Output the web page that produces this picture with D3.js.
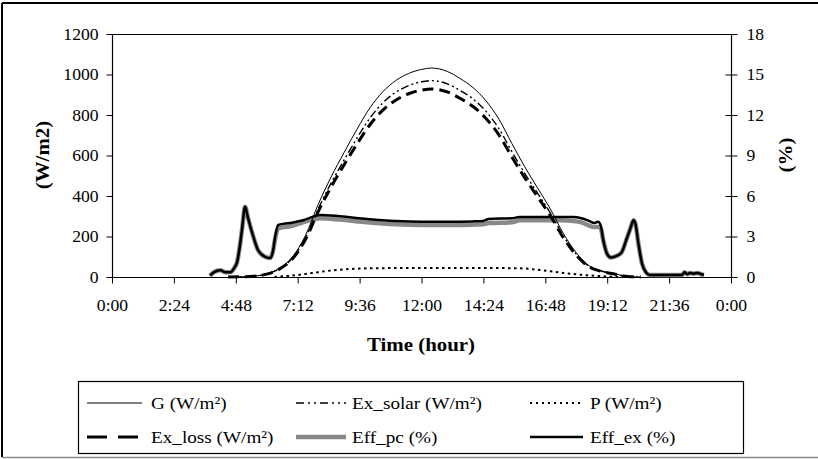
<!DOCTYPE html>
<html><head><meta charset="utf-8">
<script src="https://cdn.jsdelivr.net/npm/d3@7"></script>
<style>
html,body{margin:0;padding:0;background:#fff;}
svg text{font-family:"Liberation Serif","Times New Roman",serif !important;fill:#000;}
</style></head>
<body><svg id="c" width="818" height="459"></svg>
<script>
// ---- data (time in decimal hours) ----
const xTickValues = [0, 2.4, 4.8, 7.2, 9.6, 12, 14.4, 16.8, 19.2, 21.6, 24];
const xTickLabels = ["0:00","2:24","4:48","7:12","9:36","12:00","14:24","16:48","19:12","21:36","0:00"];
const leftTicks = [0,200,400,600,800,1000,1200];
const rightTicks = [0,3,6,9,12,15,18];

const gTimes = [4.5,5,5.5,6,6.5,7,7.5,8,8.5,9,9.5,10,10.5,11,11.5,12,12.4,13,13.5,14,14.5,15,15.5,16,16.5,17,17.5,18,18.5,19,19.5,20,20.5];
const G       = [0,1,4,16,44,100,205,360,495,615,730,835,915,970,1005,1025,1032,1015,980,935,870,780,660,545,440,335,215,120,55,30,15,3,0];
const ExSolar = [0,1,4,15,41,94,193,338,465,578,686,785,860,912,945,964,970,954,921,879,818,733,620,512,414,315,202,113,52,28,14,3,0];
const ExLoss  = [0,1,4,14,40,90,185,324,446,554,657,752,824,873,905,923,929,914,882,842,783,702,594,491,396,302,194,108,50,27,14,3,0];

const pTimes = [6.3,6.5,7,7.5,8,8.5,9,9.5,10,11,12,13,14,15,15.8,16.5,17,17.5,18,18.5,19,19.5,20];
const P      = [0,2,7,15,24,32,38,41,43,44,44,44,44,44,43,36,28,20,13,8,4,1,0];

const effTimes = [3.8,3.95,4.2,4.4,4.58,4.75,4.85,4.95,5.04,5.16,5.27,5.43,5.66,5.93,6.13,6.25,6.32,6.44,6.9,7.41,8.07,8.84,9.89,11,12,13,14,14.4,14.6,15.5,15.8,17.4,17.9,18.2,18.5,18.7,18.85,18.95,19.05,19.2,19.35,19.55,19.75,19.95,20.1,20.22,20.3,20.4,20.55,20.7,20.85,21.5,22.1,22.2,22.3,22.4,22.55,22.7,22.85,22.95];
const EffEx = [0.1,0.35,0.5,0.35,0.35,0.7,1.1,2.2,3.5,5.2,4.4,3.3,2.0,1.5,1.4,2.0,2.9,3.85,4.0,4.2,4.6,4.5,4.3,4.15,4.1,4.1,4.12,4.15,4.3,4.35,4.45,4.45,4.45,4.35,4.15,4.0,4.1,3.8,2.7,1.7,1.45,1.55,1.8,2.8,3.6,4.2,3.9,2.6,1.0,0.35,0.15,0.15,0.15,0.35,0.2,0.3,0.25,0.3,0.2,0.15];
const EffPc = [0.1,0.35,0.5,0.35,0.35,0.7,1.1,2.2,3.5,5.2,4.4,3.3,2.0,1.5,1.4,2.0,2.8,3.6,3.75,4.05,4.35,4.25,4.05,3.9,3.85,3.85,3.88,3.9,4.0,4.05,4.2,4.2,4.15,4.05,3.8,3.7,3.7,3.6,2.7,1.7,1.45,1.55,1.8,2.8,3.6,4.2,3.9,2.6,1.0,0.35,0.15,0.15,0.15,0.35,0.2,0.3,0.25,0.3,0.2,0.15];

const legendItems = [
  {name:"G (W/m²)", key:"G"},
  {name:"Ex_solar (W/m²)", key:"ExSolar"},
  {name:"P (W/m²)", key:"P"},
  {name:"Ex_loss (W/m²)", key:"ExLoss"},
  {name:"Eff_pc (%)", key:"EffPc"},
  {name:"Eff_ex (%)", key:"EffEx"}
];

// ---- styles ----
const FONT = "Liberation Serif, Times New Roman, serif";
const styles = {
  G:      {stroke:"#000", w:1, dash:null},
  ExSolar:{stroke:"#000", w:1.4, dash:"8,3,2,3,2,3"},
  P:      {stroke:"#000", w:2, dash:"2.5,3.5"},
  ExLoss: {stroke:"#000", w:3, dash:"11,6"},
  EffPc:  {stroke:"#888", w:4.5, dash:null},
  EffEx:  {stroke:"#000", w:2.5, dash:null}
};

const svg = d3.select("#c");
// outer frame
svg.append("line").attr("x1",2).attr("x2",818).attr("y1",3).attr("y2",3).attr("stroke","#000").attr("stroke-width",2);
svg.append("line").attr("x1",2).attr("x2",2).attr("y1",3).attr("y2",457).attr("stroke","#000").attr("stroke-width",2);
svg.append("line").attr("x1",2).attr("x2",818).attr("y1",457.5).attr("y2",457.5).attr("stroke","#888").attr("stroke-width",1.5);

const L=112, R=731, T=34, B=277;
const x = d3.scaleLinear().domain([0,24]).range([L,R]);
const yL = d3.scaleLinear().domain([0,1200]).range([B,T]);
const yR = d3.scaleLinear().domain([0,18]).range([B,T]);

// plot top border
svg.append("line").attr("x1",L).attr("x2",R).attr("y1",T+0.5).attr("y2",T+0.5).attr("stroke","#000");

const tickFont = 16;
const gl = svg.append("g").attr("transform",`translate(${L+0.5},0)`)
  .call(d3.axisLeft(yL).tickValues(leftTicks).tickSize(6).tickPadding(8).tickFormat(d3.format("d")));
const gr = svg.append("g").attr("transform",`translate(${R+0.5},0)`)
  .call(d3.axisRight(yR).tickValues(rightTicks).tickSize(6).tickPadding(9).tickFormat(d3.format("d")));
gr.selectAll(".tick line").attr("x1",-6).attr("x2",6);
const gb = svg.append("g").attr("transform",`translate(0,${B+0.5})`)
  .call(d3.axisBottom(x).tickValues(xTickValues).tickSize(6).tickPadding(0).tickFormat((d,i)=>xTickLabels[i]));
gb.selectAll(".tick text").attr("y",34).attr("dy",0);

[gl,gr,gb].forEach(g=>{
  g.attr("font-family",FONT);
  g.selectAll("path.domain").attr("stroke","#000").attr("stroke-width",1.2);
  g.selectAll(".tick line").attr("stroke","#000");
  g.selectAll(".tick text").attr("font-size",tickFont).attr("font-family",FONT).attr("fill","#000");
});
gl.select("path.domain").attr("d",`M0,${T}V${B}`);
gr.select("path.domain").attr("d",`M0,${T}V${B}`);
gb.select("path.domain").attr("d",`M${L},0H${R}`);

// axis titles
svg.append("text").attr("x",421).attr("y",351).attr("text-anchor","middle").attr("font-family",FONT)
  .attr("font-size",19).attr("font-weight","bold").text("Time (hour)");
svg.append("text").attr("transform","translate(49,155) rotate(-90)").attr("x",0).attr("y",0).attr("text-anchor","middle").attr("font-family",FONT)
  .attr("font-size",19).attr("font-weight","bold").text("(W/m2)");
svg.append("text").attr("transform","translate(792,155) rotate(-90)").attr("x",0).attr("y",0).attr("text-anchor","middle").attr("font-family",FONT)
  .attr("font-size",19).attr("font-weight","bold").text("(%)");

// series
function drawLine(times, vals, yScale, key){
  const st = styles[key];
  const line = d3.line().x(d=>x(d[0])).y(d=>yScale(d[1])).curve(d3.curveMonotoneX);
  const p = svg.append("path").datum(times.map((t,i)=>[t,vals[i]]))
    .attr("d",line).attr("fill","none").attr("stroke",st.stroke).attr("stroke-width",st.w)
    .attr("stroke-linejoin","round");
  if(st.dash) p.attr("stroke-dasharray",st.dash);
}
drawLine(pTimes, P, yL, "P");
drawLine(effTimes, EffPc, yR, "EffPc");
drawLine(effTimes, EffEx, yR, "EffEx");
drawLine(gTimes, ExLoss, yL, "ExLoss");
drawLine(gTimes, ExSolar, yL, "ExSolar");
drawLine(gTimes, G, yL, "G");

// legend
svg.append("rect").attr("x",78.5).attr("y",381.5).attr("width",665).attr("height",72)
  .attr("fill","#fff").attr("stroke","#000").attr("stroke-width",1.2);
const colX = [[87,142,151],[296,346,352],[530,583,590]];
const rowY = [403,437];
const legendDash = {ExLoss:"20,11", ExSolar:"8,4,2,4,2,4", P:"2,4"};
legendItems.forEach((it,i)=>{
  const c = colX[i%3], yy = rowY[Math.floor(i/3)];
  const st = styles[it.key];
  const ln = svg.append("line").attr("x1",c[0]).attr("x2",c[1]).attr("y1",yy).attr("y2",yy)
    .attr("stroke",st.stroke).attr("stroke-width",st.w);
  if(legendDash[it.key]) ln.attr("stroke-dasharray",legendDash[it.key]);
  svg.append("text").attr("class","leg").attr("x",c[2]).attr("y",yy).attr("dy","0.35em")
    .attr("font-family",FONT).attr("font-size",17).text(it.name);
});

// the reference text is slightly wide: stretch every text horizontally around its anchor
svg.selectAll("text").each(function(){
  const t = d3.select(this);
  const ax = +t.attr("x") || 0;
  const sx = t.classed("leg") ? 1.13 : 1.1;
  const prev = t.attr("transform") || "";
  t.attr("transform", `${prev} translate(${ax},0) scale(${sx},1) translate(${-ax},0)`);
});
</script></body></html>
